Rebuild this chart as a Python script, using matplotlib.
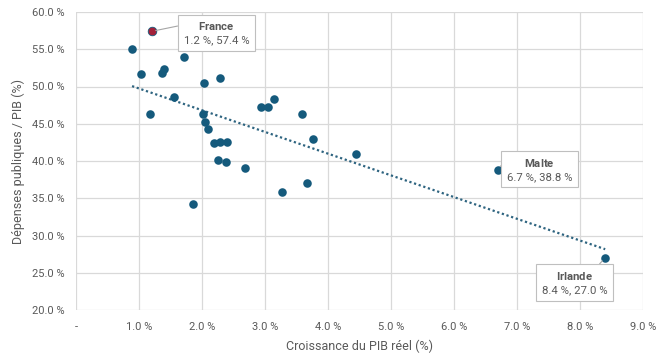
import matplotlib
matplotlib.use("Agg")
import matplotlib.pyplot as plt
import numpy as np

plt.rcParams['font.family'] = ['Roboto', 'DejaVu Sans']
plt.rcParams['mathtext.fontset'] = 'custom'
plt.rcParams['mathtext.rm'] = 'Roboto'
plt.rcParams['mathtext.bf'] = 'Roboto:bold'

# Data: real GDP growth (%) and public spending / GDP (%)
growth = [0.89, 1.03, 1.40, 1.36, 1.71, 2.03, 2.29, 1.56, 1.17, 2.02,
          2.05, 2.10, 2.93, 3.05, 3.14, 3.58, 3.76, 4.44, 2.19, 2.29,
          2.40, 2.25, 2.38, 2.68, 1.86, 3.27, 3.67]
spending = [55.0, 51.7, 52.4, 51.8, 53.9, 50.5, 51.2, 48.6, 46.3, 46.3,
            45.2, 44.3, 47.2, 47.2, 48.3, 46.3, 42.9, 41.0, 42.4, 42.6,
            42.6, 40.1, 39.8, 39.0, 34.2, 35.8, 37.0]
labelled_names = ["France", "Malte", "Irlande"]
labelled_growth = [1.2, 6.7, 8.4]
labelled_spending = [57.4, 38.8, 27.0]

xticks = [0, 1, 2, 3, 4, 5, 6, 7, 8, 9]
yticks = [20, 25, 30, 35, 40, 45, 50, 55, 60]

blue = "#155A7C"
red = "#A3213A"
gray_text = "#595959"

fig = plt.figure(figsize=(6.63, 3.56), dpi=100)
ax = fig.add_axes([76/663, 46/356, (643-76)/663, (310-12)/356])

all_x = np.array(growth + labelled_growth)
all_y = np.array(spending + labelled_spending)

# trend line
m, b = np.polyfit(all_x, all_y, 1)
tx = np.array([all_x.min(), all_x.max()])
ax.plot(tx, m*tx + b, linestyle=(0, (1, 1.2)), color="#2E6480", lw=1.6, zorder=2)

ax.scatter(growth, spending, s=38, color=blue, zorder=3, linewidths=0)
ax.scatter(labelled_growth[1:], labelled_spending[1:], s=38, color=blue, zorder=3, linewidths=0)
ax.scatter(labelled_growth[:1], labelled_spending[:1], s=38, color=red, zorder=3,
           edgecolors=blue, linewidths=0.6)

ax.set_xlim(0, 9)
ax.set_ylim(20, 60)
ax.set_xticks(xticks)
ax.set_yticks(yticks)
ax.set_xticklabels(["-" if v == 0 else f"{v:.1f} %" for v in xticks])
ax.set_yticklabels([f"{v:.1f} %" for v in yticks])
ax.grid(True, color="#D9D9D9", lw=0.9)
ax.set_axisbelow(True)
for s in ax.spines.values():
    s.set_visible(False)
ax.tick_params(length=0, labelsize=8, colors=gray_text)
ax.tick_params(axis='y', pad=8)
ax.tick_params(axis='x', pad=9)
ax.set_xlabel("Croissance du PIB réel (%)", fontsize=9, color=gray_text, labelpad=5)
ax.set_ylabel("Dépenses publiques / PIB (%)", fontsize=9, color=gray_text, labelpad=5)

# annotation boxes (centre positions in data coords)
box_x = [2.23, 7.36, 7.91]
box_y = [57.2, 38.9, 23.7]
rel = [(0.0, 0.82), (0.0, 1.0), (0.8, 1.0)]
for name, gx, gy, ox, oy, rp in zip(labelled_names, labelled_growth, labelled_spending,
                                    box_x, box_y, rel):
    label = "$\\mathbf{" + name + "}$\n" + f"{gx:.1f} %, {gy:.1f} %"
    ax.annotate(label, xy=(gx, gy), xytext=(ox, oy),
                ha="center", va="center", fontsize=8.2, color=gray_text, linespacing=1.4,
                multialignment="center",
                bbox=dict(boxstyle="square,pad=0.5", fc="white", ec="#BFBFBF", lw=0.8),
                arrowprops=dict(arrowstyle="-", color="#A6A6A6", lw=0.8, shrinkA=0, shrinkB=3,
                                relpos=rp),
                zorder=5)

fig.savefig("out.png", dpi=100)
